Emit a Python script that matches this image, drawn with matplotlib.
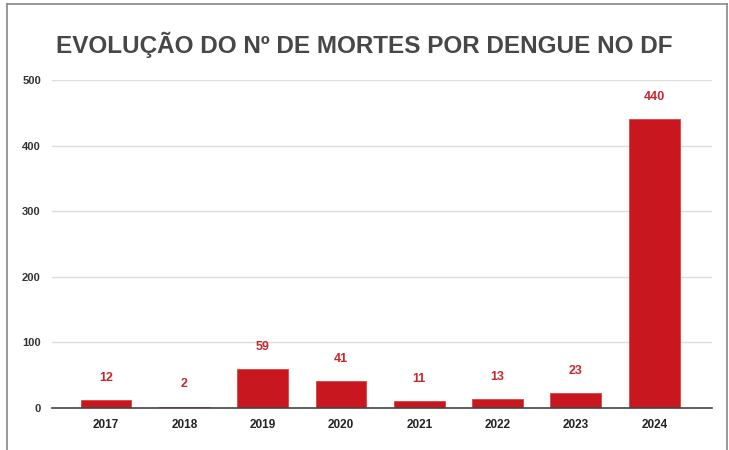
import matplotlib as mpl
mpl.use('Agg')
import matplotlib.pyplot as plt
from matplotlib.lines import Line2D

years = ["2017", "2018", "2019", "2020", "2021", "2022", "2023", "2024"]
deaths = [12, 2, 59, 41, 11, 13, 23, 440]
yticks = [0, 100, 200, 300, 400, 500]

title = "EVOLUÇÃO DO Nº DE MORTES POR DENGUE NO DF"

plt.rcParams['font.family'] = ['Liberation Sans', 'DejaVu Sans']

fig = plt.figure(figsize=(7.29, 4.5), dpi=100)
ax = fig.add_axes([0.0713, 0.0933, 0.9057, 0.7287])

x = list(range(len(years)))
ax.bar(x, deaths, width=0.65, color="#c8171f", edgecolor="#e04040", linewidth=0.6, zorder=3)

for xi, v in zip(x, deaths):
    ax.annotate(str(v), (xi, v), xytext=(0, 16), textcoords="offset points",
                ha="center", va="center", color="#c8282d", fontsize=9, fontweight="bold")

ax.set_xlim(-0.69, 7.74)
ax.set_ylim(0, 500)
ax.set_yticks(yticks)
ax.set_yticklabels([str(t) for t in yticks], fontsize=8, fontweight="bold", color="#333333")
ax.set_xticks(x)
ax.set_xticklabels(years, fontsize=8.5, fontweight="bold", color="#222222")
ax.tick_params(axis="y", length=0, pad=8)
ax.tick_params(axis="x", length=0, pad=8)

ax.grid(axis="y", color="#dddddd", linewidth=1.0, zorder=0)
for s in ["top", "right", "left"]:
    ax.spines[s].set_visible(False)
ax.spines["bottom"].set_color("#444444")
ax.spines["bottom"].set_linewidth(1.2)
ax.spines["bottom"].set_zorder(4)

fig.text(0.5, 0.9, title, ha="center", va="center", fontsize=17.5,
         fontweight="bold", color="#474747")

# frame around the graphic
border = "#888888"
fig.add_artist(Line2D([7 / 729, 7 / 729], [0, 1 - 4 / 450], color=border, linewidth=1.2))
fig.add_artist(Line2D([7 / 729, 727 / 729], [1 - 4 / 450, 1 - 4 / 450], color=border, linewidth=1.2))
fig.add_artist(Line2D([727 / 729, 727 / 729], [0, 1 - 4 / 450], color=border, linewidth=1.2))

fig.savefig("out.png", dpi=100)
